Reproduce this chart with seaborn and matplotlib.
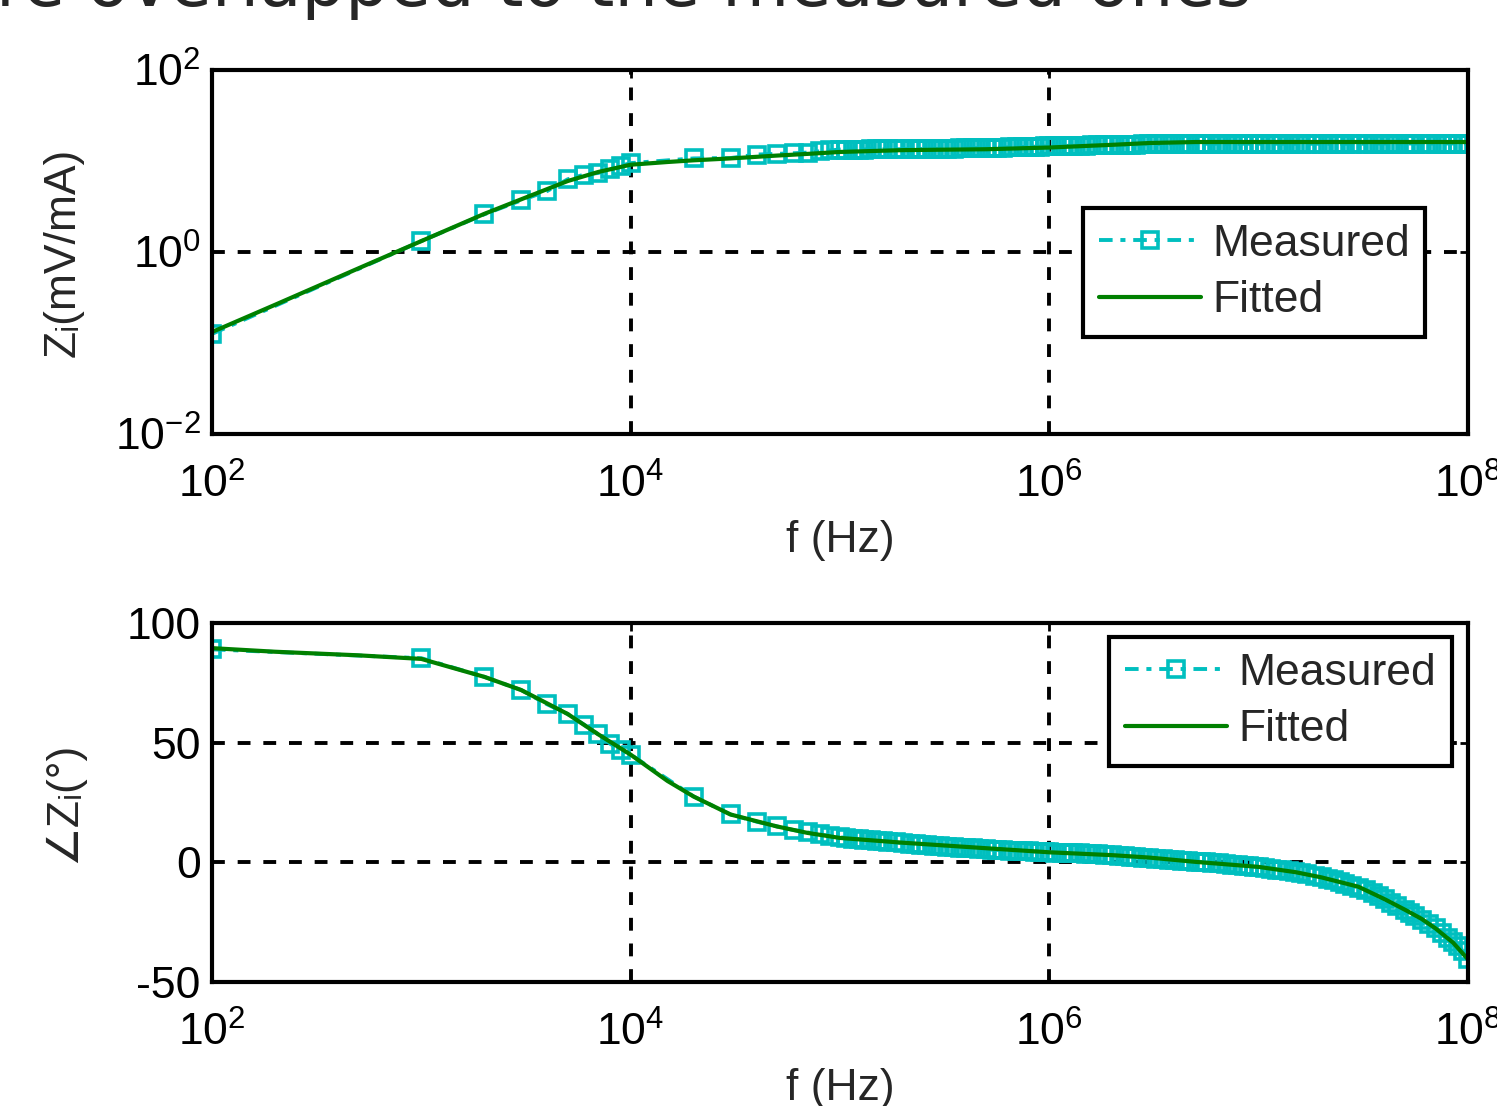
import numpy as np
import pandas as pd
import matplotlib
matplotlib.use("Agg")
import matplotlib.pyplot as plt
import seaborn as sns
from matplotlib.ticker import NullLocator

# measured sweep: sparse low-frequency points (Hz)
f_meas_low = [1e2, 1e3, 2e3, 3e3, 4e3, 5e3, 6e3, 7e3, 8e3, 9e3,
              1e4, 2e4, 3e4, 4e4, 5e4, 6e4, 7e4, 8e4, 9e4, 1e5]
z_meas_low = [0.126, 1.32, 2.6, 3.7, 4.7, 6.3, 7.1, 7.4, 8.1, 8.9,
              9.5, 10.7, 10.8, 11.8, 12.0, 12.2, 12.4, 12.8, 13.1, 13.4]
ph_meas_low = [89.0, 85.3, 77.5, 72.0, 66.0, 62.0, 57.5, 53.5, 49.5, 47.0,
               45.0, 27.5, 20.0, 17.0, 15.0, 13.5, 12.5, 11.7, 11.0, 10.5]

# measured sweep: dense part from 100 kHz to 100 MHz (same steps in every decade)
dense_steps = [1.07, 1.15, 1.23, 1.3, 1.4, 1.5, 1.6, 1.7, 1.85, 2.0, 2.15, 2.3, 2.45, 2.6, 2.8, 3.0, 3.25,
               3.5, 3.75, 4.0, 4.3, 4.6, 5.0, 5.3, 5.6, 6.0, 6.5, 7.0, 7.5, 8.0, 8.5, 9.0, 9.5, 10.0]
f_meas_dense = [m * 10.0 ** k for k in (5, 6, 7) for m in dense_steps]
z_meas_dense = [
    # 100 kHz - 1 MHz
    13.4, 13.4, 13.4, 13.4, 13.5, 13.5, 13.5, 13.5, 13.5, 13.5, 13.6, 13.6, 13.6, 13.6, 13.6, 13.6, 13.7,
    13.7, 13.8, 13.8, 13.9, 13.9, 14.0, 14.0, 14.1, 14.1, 14.2, 14.2, 14.3, 14.3, 14.4, 14.4, 14.5, 14.5,
    # 1 MHz - 10 MHz
    14.6, 14.6, 14.7, 14.7, 14.8, 14.8, 14.9, 14.9, 15.0, 15.0, 15.1, 15.1, 15.2, 15.2, 15.3, 15.3, 15.4,
    15.4, 15.5, 15.5, 15.5, 15.5, 15.5, 15.5, 15.5, 15.5, 15.5, 15.5, 15.5, 15.5, 15.5, 15.5, 15.5, 15.5,
    # 10 MHz - 100 MHz
    15.5, 15.5, 15.5, 15.5, 15.5, 15.5, 15.5, 15.5, 15.5, 15.5, 15.5, 15.5, 15.5, 15.5, 15.5, 15.5, 15.5,
    15.6, 15.6, 15.6, 15.6, 15.6, 15.6, 15.6, 15.6, 15.6, 15.6, 15.6, 15.6, 15.6, 15.6, 15.6, 15.6, 15.6,
]
ph_meas_dense = [
    10.2, 9.9, 9.7, 9.5, 9.3, 9.0, 8.8, 8.6, 8.3, 8.0, 7.8, 7.6, 7.4, 7.2, 7.0, 6.8, 6.6,
    6.4, 6.2, 6.0, 5.8, 5.6, 5.4, 5.3, 5.2, 5.1, 4.9, 4.8, 4.7, 4.6, 4.5, 4.4, 4.3, 4.2,
    4.1, 4.0, 3.9, 3.8, 3.7, 3.6, 3.5, 3.4, 3.2, 3.0, 2.8, 2.6, 2.4, 2.2, 2.0, 1.8, 1.6,
    1.3, 1.1, 0.9, 0.7, 0.5, 0.3, 0.2, 0.0, -0.2, -0.4, -0.7, -0.9, -1.2, -1.4, -1.6, -1.8, -1.9,
    -2.2, -2.6, -3.0, -3.4, -3.8, -4.2, -4.5, -4.9, -5.6, -6.3, -7.0, -7.5, -8.3, -9.0, -9.8, -10.6, -11.5,
    -12.6, -14.1, -15.4, -16.8, -18.2, -20.1, -21.3, -22.6, -24.1, -25.9, -27.4, -29.5, -31.5, -33.4, -35.1,
    -36.9, -40.5,
]

# fitted model curve
f_fit = [1e2, 2e2, 5e2, 1e3, 2e3, 3e3, 5e3, 7e3, 1e4, 1.5e4, 2e4, 3e4, 5e4, 7e4, 1e5,
         2e5, 5e5, 1e6, 2e6, 3e6, 5e6, 1e7, 1.5e7, 2e7, 3e7, 4e7, 5e7, 6e7, 7e7, 8.5e7, 1e8]
z_fit = [0.132, 0.263, 0.661, 1.32, 2.63, 3.80, 6.03, 7.59, 9.12, 9.77, 10.2, 10.7, 11.5, 12.0, 12.6,
         13.2, 13.5, 14.1, 15.1, 15.8, 16.2, 16.2, 16.2, 16.2, 16.2, 16.2, 16.2, 16.2, 16.2, 16.2, 16.2]
ph_fit = [89.5, 88.0, 86.5, 85.0, 77.5, 72.0, 62.0, 53.5, 45.0, 34.0, 27.5, 20.0, 15.0, 12.3, 10.2,
          8.2, 5.9, 4.2, 3.0, 2.0, 0.2, -1.9, -4.1, -6.3, -10.2, -15.4, -19.8, -23.6, -27.6, -33.6, -40.5]

meas = pd.DataFrame({"f": f_meas_low + f_meas_dense,
                     "z": z_meas_low + z_meas_dense,
                     "ph": ph_meas_low + ph_meas_dense})
fit = pd.DataFrame({"f": f_fit, "z": z_fit, "ph": ph_fit})

CYAN = "#00BFBF"
GREEN = "#008000"
FS = 32

sns.set_theme(style="white")
plt.rcParams["font.family"] = ["Liberation Sans", "DejaVu Sans"]
plt.rcParams["mathtext.default"] = "regular"
plt.rcParams["axes.unicode_minus"] = False

fig = plt.figure(figsize=(14.97, 11.06), dpi=100)
ax1 = fig.add_axes([0.1416, 0.6076, 0.839, 0.329])
ax2 = fig.add_axes([0.1416, 0.1121, 0.839, 0.3246])

meas_kw = dict(color=CYAN, linewidth=2.8, linestyle=(0, (3.5, 2, 1.3, 2)), marker="s",
               markersize=11, markerfacecolor="none", markeredgecolor=CYAN,
               markeredgewidth=2.6, estimator=None, sort=False, label="Measured")
fit_kw = dict(color=GREEN, linewidth=3, estimator=None, sort=False, label="Fitted")

for ax, col in ((ax1, "z"), (ax2, "ph")):
    sns.lineplot(data=meas, x="f", y=col, ax=ax, **meas_kw)
    sns.lineplot(data=fit, x="f", y=col, ax=ax, **fit_kw)
    ax.set_xscale("log")
    ax.set_xlim(1e2, 1e8)
    ax.set_xticks([1e2, 1e4, 1e6, 1e8], labels=[r"$10^{2}$", r"$10^{4}$", r"$10^{6}$", r"$10^{8}$"])
    ax.xaxis.set_minor_locator(NullLocator())
    for s in ax.spines.values():
        s.set_color("black")
        s.set_linewidth(3)
    ax.grid(True, which="major", color="black", linestyle=(0, (3.3, 3.3)), linewidth=2.8)
    ax.tick_params(which="major", direction="in", length=6, width=2, top=True, right=True,
                   labelsize=FS, colors="black")
    ax.tick_params(axis="x", pad=21)
    ax.tick_params(axis="y", pad=8)
    ax.set_xlabel("f (Hz)", fontsize=FS)
    ax.yaxis.set_label_coords(-0.102, 0.5)

# top: magnitude
ax1.set_yscale("log")
ax1.set_ylim(1e-2, 1e2)
ax1.set_yticks([1e-2, 1, 1e2], labels=[r"$10^{-2}$", r"$10^{0}$", r"$10^{2}$"])
ax1.yaxis.set_minor_locator(NullLocator())
ax1.set_ylabel("Zᵢ(mV/mA)", fontsize=FS)
ax1.xaxis.set_label_coords(0.5, -0.236)

# bottom: phase
ax2.set_ylim(-50, 100)
ax2.set_yticks([-50, 0, 50, 100], labels=["-50", "0", "50", "100"])
ax2.set_ylabel("∠Zᵢ(°)", fontsize=FS)
ax2.xaxis.set_label_coords(0.5, -0.24)

for ax, anchor in ((ax1, (0.966, 0.621)), (ax2, (0.987, 0.961))):
    leg = ax.legend(loc="upper right", bbox_to_anchor=anchor, fontsize=FS, frameon=True,
                    fancybox=False, edgecolor="black", framealpha=1, handlelength=2.3,
                    handletextpad=0.25, borderpad=0.35, labelspacing=0.35, borderaxespad=0)
    leg.get_frame().set_linewidth(3)

fig.text(-0.003, 1 - 5.5 / 1106, "re overlapped to the measured ones", fontsize=49.5,
         family="DejaVu Sans", va="baseline", ha="left")

fig.savefig("out.png", dpi=100)
